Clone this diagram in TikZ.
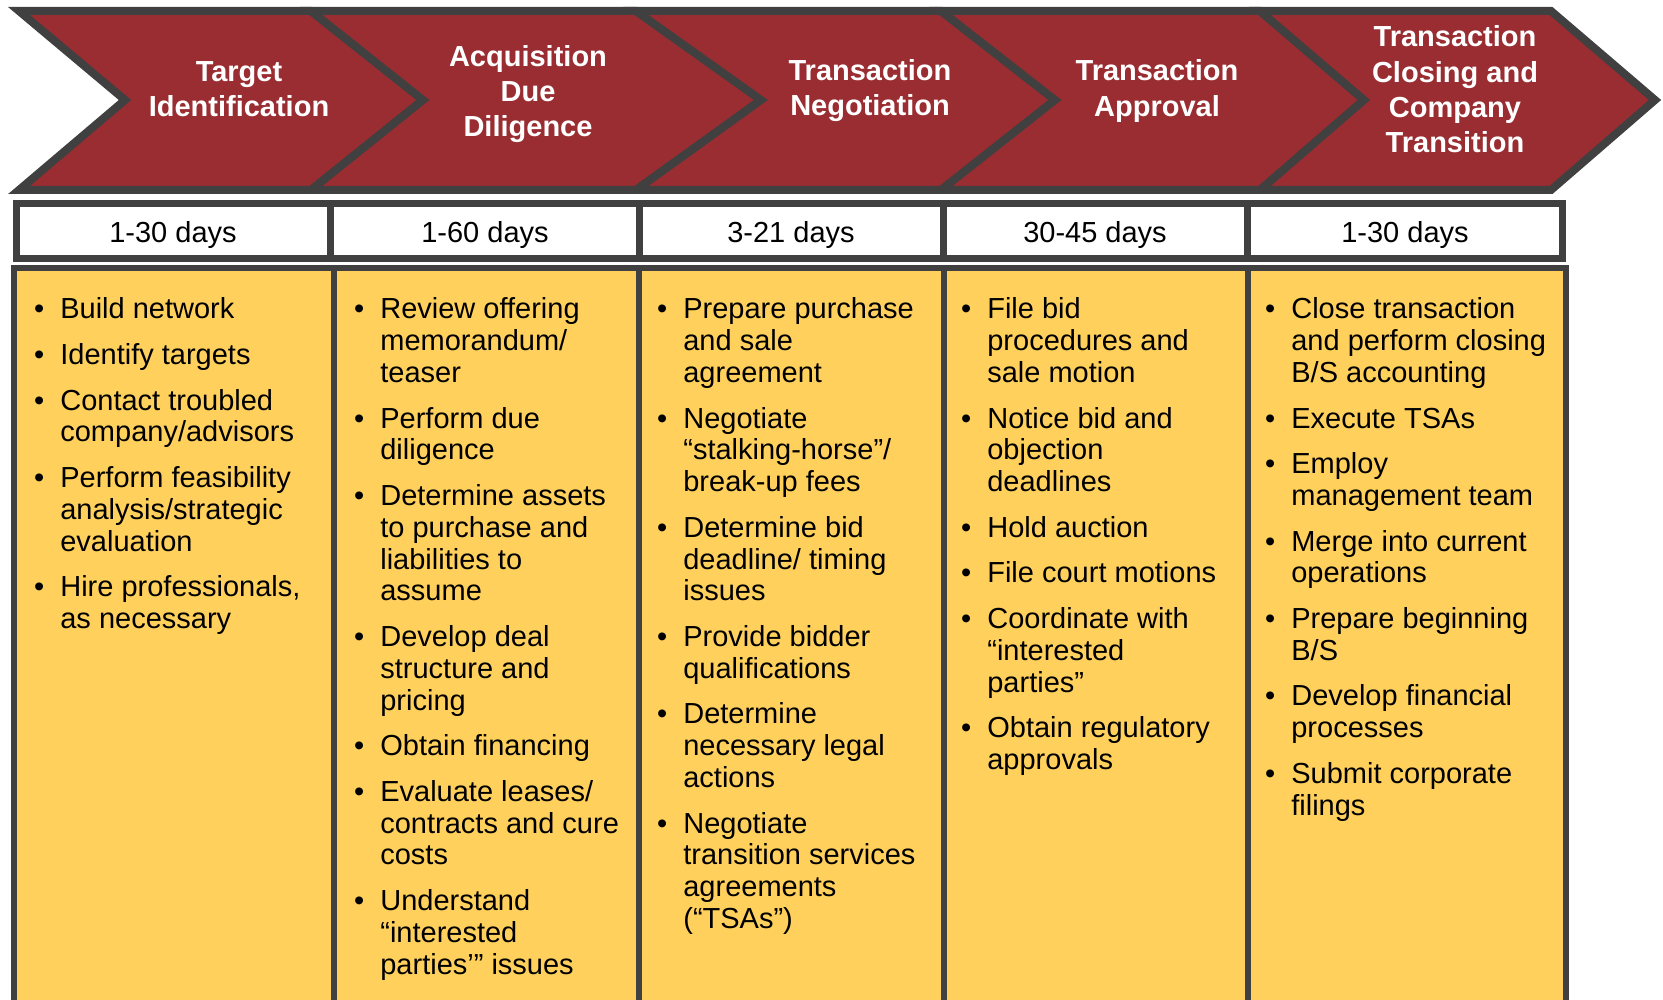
\documentclass[tikz,border=0pt]{standalone}
\usepackage{fontspec}
\setmainfont{Liberation Sans}
\definecolor{chevred}{RGB}{153,45,49}
\definecolor{framegray}{RGB}{64,64,64}
\definecolor{taskyellow}{RGB}{255,209,92}
\tikzset{
  chev/.style={fill=chevred, draw=framegray, line width=8pt, line join=miter},
  phase/.style={text=white, font=\fontsize{29}{35.3}\selectfont\bfseries, align=center, inner sep=0pt},
  daycell/.style={fill=white, draw=framegray, line width=7pt},
  daytext/.style={font=\fontsize{29}{31.8}\selectfont, inner sep=0pt, anchor=base},
  taskcol/.style={fill=taskyellow, draw=framegray, line width=6pt},
  tasks/.style={font=\fontsize{29}{31.8}\selectfont, inner sep=0pt, anchor=base west},
}
\newcommand{\ig}{\\[13.8pt]}
\newcommand{\tasklist}[1]{\begin{tabular}[t]{@{}l@{\hspace{16pt}}l@{}}#1\end{tabular}}
\begin{document}
\begin{tikzpicture}[x=1pt, y=-1pt]
\useasboundingbox (0,0) rectangle (1663,1000);

% task columns
\foreach \xa/\xb in {14/334, 334/639, 639/944, 944/1248, 1248/1566}
  \draw[taskcol] (\xa,268) rectangle (\xb,1010);

% day cells
\foreach \xa/\xb in {16/330, 330/639, 639/943, 943/1247, 1247/1562}
  \draw[daycell] (\xa,204) rectangle (\xb,259);

% chevrons
\foreach \xa/\xb/\xc/\xd in {19/125/311/423, 311/423/636/761, 636/761/941/1055, 941/1055/1260/1364, 1260/1364/1551/1655}
  \draw[chev] (\xa,11) -- (\xc,11) -- (\xd,100) -- (\xc,190) -- (\xa,190) -- (\xb,100) -- cycle;

% phase titles
\node[phase] (t1) at (239,89.5) {Target\\Identification};
\node[phase] (t2) at (528,94) {Acquisition\\Due\\Diligence};
\node[phase] (t3) at (870,90.5) {Transaction\\Negotiation};
\node[phase] (t4) at (1157,91) {Transaction\\Approval};
\node[phase] (t5) at (1455,89.5) {Transaction\\Closing and\\Company\\Transition};

% durations
\node[daytext] (d1) at (173,243) {1-30 days};
\node[daytext] (d2) at (485,243) {1-60 days};
\node[daytext] (d3) at (791,243) {3-21 days};
\node[daytext] (d4) at (1095,243) {30-45 days};
\node[daytext] (d5) at (1405,243) {1-30 days};

% tasks
\node[tasks] (l1) at (34,319) {\tasklist{
  • & Build network\ig
  • & Identify targets\ig
  • & Contact troubled\\ & company/advisors\ig
  • & Perform feasibility\\ & analysis/strategic\\ & evaluation\ig
  • & Hire professionals,\\ & as necessary}};
\node[tasks] (l2) at (354,319) {\tasklist{
  • & Review offering\\ & memorandum/\\ & teaser\ig
  • & Perform due\\ & diligence\ig
  • & Determine assets\\ & to purchase and\\ & liabilities to\\ & assume\ig
  • & Develop deal\\ & structure and\\ & pricing\ig
  • & Obtain financing\ig
  • & Evaluate leases/\\ & contracts and cure\\ & costs\ig
  • & Understand\\ & “interested\\ & parties’” issues}};
\node[tasks] (l3) at (657,319) {\tasklist{
  • & Prepare purchase\\ & and sale\\ & agreement\ig
  • & Negotiate\\ & “stalking-horse”/\\ & break-up fees\ig
  • & Determine bid\\ & deadline/ timing\\ & issues\ig
  • & Provide bidder\\ & qualifications\ig
  • & Determine\\ & necessary legal\\ & actions\ig
  • & Negotiate\\ & transition services\\ & agreements\\ & (“TSAs”)}};
\node[tasks] (l4) at (961,319) {\tasklist{
  • & File bid\\ & procedures and\\ & sale motion\ig
  • & Notice bid and\\ & objection\\ & deadlines\ig
  • & Hold auction\ig
  • & File court motions\ig
  • & Coordinate with\\ & “interested\\ & parties”\ig
  • & Obtain regulatory\\ & approvals}};
\node[tasks] (l5) at (1265,319) {\tasklist{
  • & Close transaction\\ & and perform closing\\ & B/S accounting\ig
  • & Execute TSAs\ig
  • & Employ\\ & management team\ig
  • & Merge into current\\ & operations\ig
  • & Prepare beginning\\ & B/S\ig
  • & Develop financial\\ & processes\ig
  • & Submit corporate\\ & filings}};
\end{tikzpicture}
\end{document}
